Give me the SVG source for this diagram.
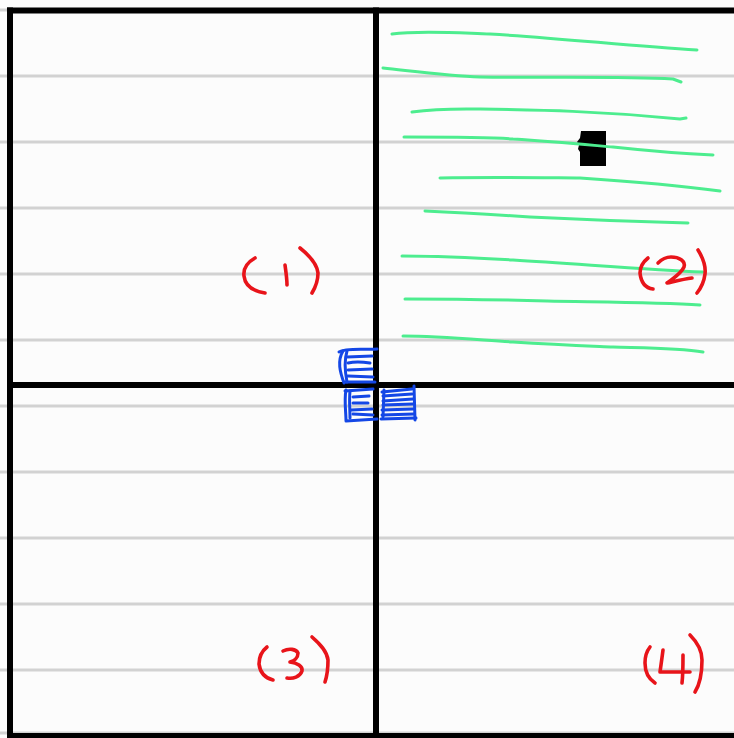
<svg xmlns="http://www.w3.org/2000/svg" width="734" height="738" viewBox="0 0 734 738">
<style>
.rule{stroke:#d2d2d2;stroke-width:3;fill:none}
.frame{stroke:#000;stroke-width:6;fill:none;stroke-linecap:square}
.green{stroke:#4ded8f;stroke-width:3;fill:none;stroke-linecap:round;stroke-linejoin:round}
.red{stroke:#e8141a;stroke-width:3.6;fill:none;stroke-linecap:round;stroke-linejoin:round}
.blue{stroke:#1447e6;stroke-width:3;fill:none;stroke-linecap:round;stroke-linejoin:round}
</style>
<rect x="0" y="0" width="734" height="738" fill="#fcfcfc"/>
<g id="ruled-lines">
<line class="rule" x1="0" y1="10" x2="734" y2="10"/>
<line class="rule" x1="0" y1="76" x2="734" y2="76"/>
<line class="rule" x1="0" y1="142" x2="734" y2="142"/>
<line class="rule" x1="0" y1="208" x2="734" y2="208"/>
<line class="rule" x1="0" y1="274" x2="734" y2="274"/>
<line class="rule" x1="0" y1="340" x2="734" y2="340"/>
<line class="rule" x1="0" y1="406" x2="734" y2="406"/>
<line class="rule" x1="0" y1="472" x2="734" y2="472"/>
<line class="rule" x1="0" y1="538" x2="734" y2="538"/>
<line class="rule" x1="0" y1="604" x2="734" y2="604"/>
<line class="rule" x1="0" y1="670" x2="734" y2="670"/>
<line class="rule" x1="0" y1="733" x2="734" y2="733"/>
</g>
<g id="frame">
<line class="frame" x1="10" y1="10.5" x2="737" y2="10.5"/>
<line class="frame" x1="10" y1="10.5" x2="10" y2="736"/>
<line class="frame" x1="10" y1="736" x2="737" y2="736"/>
<line class="frame" x1="376" y1="10.5" x2="376" y2="740"/>
<line class="frame" x1="10" y1="385" x2="737" y2="385"/>
</g>
<g id="black-mark">
<path d="M581,131 L606,131 L606,166 L580,166 L580,152 L578,149 L579,145 L577,142 L580,138 Z" fill="#000"/>
</g>
<g id="green-lines">
<path class="green" d="M392,34 C420,30 460,33 490,34 C560,38 630,46 697,50"/>
<path class="green" d="M383,68 C420,72 450,76 480,77 C540,78 620,76 673,79 L681,82"/>
<path class="green" d="M412,112 C440,108 470,109 480,109 C540,110 600,111 680,119 L686,118"/>
<path class="green" d="M404,137 C450,137 490,137 513,139 C560,142 600,146 613,147 C650,151 690,154 713,155"/>
<path class="green" d="M440,178 C500,177 560,178 580,178 C640,182 690,187 720,191"/>
<path class="green" d="M425,211 C470,213 500,215 530,217 C590,220 650,222 688,223"/>
<path class="green" d="M402,256 C440,256 480,258 513,260 C580,264 650,270 703,272"/>
<path class="green" d="M405,299 C460,299 510,300 547,301 C600,302 660,302 700,305"/>
<path class="green" d="M403,336 C440,336 480,340 513,342 C560,345 590,346 613,347 C650,348 680,348 703,352"/>
</g>
<g id="label-1">
<path class="red" d="M255,258 C248,262 243,268 244,276 C245,285 252,291 265,293"/>
<path class="red" d="M285,265 C286,272 287,279 287,285"/>
<path class="red" d="M300,248 C310,256 317,264 318,273 C318,282 315,288 312,293"/>
</g>
<g id="label-2">
<path class="red" d="M648,258 C643,262 640,267 640,273 C641,282 645,288 653,289"/>
<path class="red" d="M658,263 C662,259 666,257 671,257 C679,257 686,261 684,267 C681,274 672,279 667,283 C676,281 684,279 692,278"/>
<path class="red" d="M698,250 C703,258 706,266 705,274 C704,282 701,288 697,293"/>
</g>
<g id="label-3">
<path class="red" d="M267,647 C262,651 259,657 259,664 C260,672 265,678 273,680"/>
<path class="red" d="M283,651 C289,648 296,649 298,653 C298,658 294,661 290,662 C297,663 303,666 302,671 C300,677 293,679 287,678"/>
<path class="red" d="M312,637 C320,644 327,651 328,660 C328,669 327,676 325,682"/>
</g>
<g id="label-4">
<path class="red" d="M650,647 C646,652 645,657 645,663 C645,672 649,679 655,683"/>
<path class="red" d="M663,650 C662,658 661,665 660,672 L690,672"/>
<path class="red" d="M683,655 C683,665 683,675 682,683"/>
<path class="red" d="M690,635 C697,642 702,651 702,660 C702,672 700,684 695,692"/>
</g>
<g id="blue-marks">
<path class="blue" d="M339,352 C345,348 360,350 377,349"/>
<path class="blue" d="M343,351 C337,361 340,372 344,383"/>
<path class="blue" d="M347,351 C344,361 345,372 347,382"/>
<path class="blue" d="M347,357 L372,356 M348,363 C356,361 364,362 370,363 M348,370 L372,369 M348,376 L373,377 M345,382 L375,382"/>
<path class="blue" d="M345,391 L373,389"/>
<path class="blue" d="M346,390 C344,400 346,412 346,421 L377,419"/>
<path class="blue" d="M350,391 C349,400 350,410 350,418"/>
<path class="blue" d="M353,397 L369,396 M353,403 L368,403 M351,410 L372,409 M353,414 L373,415"/>
<path class="blue" d="M382,392 L412,389 M383,396 L412,394 M383,401 L413,399 M383,405 L413,404 M382,410 L413,409 M382,415 L414,414"/>
<path class="blue" d="M384,390 L383,417"/>
<path class="blue" d="M414,386 L415,420"/>
<path class="blue" d="M381,419 L416,418"/>
</g>
</svg>
